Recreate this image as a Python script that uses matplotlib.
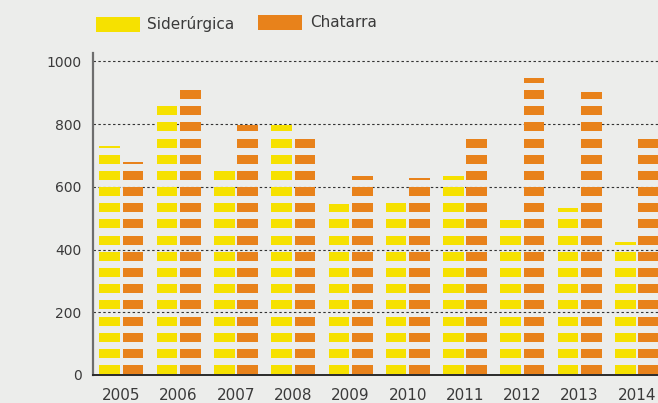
import matplotlib
matplotlib.use("Agg")
import matplotlib.pyplot as plt
from matplotlib.patches import Rectangle
import numpy as np

years = ["2005", "2006", "2007", "2008", "2009", "2010", "2011", "2012", "2013", "2014"]
siderurgica = [733, 877, 668, 809, 561, 568, 640, 511, 542, 426]
chatarra = [681, 929, 809, 774, 644, 633, 774, 959, 917, 774]
yticks = [0, 200, 400, 600, 800, 1000]
series_names = ["Siderúrgica", "Chatarra"]

BG = "#ECEDEB"
YELLOW = "#F6E100"
ORANGE = "#E8821B"
TEXT = "#3a3a3a"

STEP = 51.6     # value per block
BLOCK_H = 28.7  # drawn height of one block (axis units)
BASE = 3.0

plt.rcParams["font.family"] = ["DejaVu Sans"]

W, H = 658, 403
fig = plt.figure(figsize=(W / 100, H / 100), dpi=100)
fig.patch.set_facecolor(BG)
ax = fig.add_axes([92.7 / W, (H - 375) / H, (W - 92.7) / W, 322 / H])
ax.set_facecolor("none")
ax.set_xlim(-0.5, 9.367)
ax.set_ylim(0, 1027)


def blocks(values, offset, color):
    xs, bottoms, heights = [], [], []
    for i, v in enumerate(values):
        q = v / STEP
        n = int(np.floor(q))
        f = q - n
        for k in range(n):
            xs.append(i + offset)
            bottoms.append(BASE + k * STEP)
            heights.append(BLOCK_H)
        if f * BLOCK_H > 1.0:
            xs.append(i + offset)
            bottoms.append(BASE + n * STEP)
            heights.append(f * BLOCK_H)
    ax.bar(xs, heights, bottom=bottoms, width=0.36, color=color,
           linewidth=0, zorder=3)


x = np.arange(len(years))
blocks(siderurgica, -0.204, YELLOW)
blocks(chatarra, 0.204, ORANGE)

for t in yticks[1:]:
    ax.axhline(t, color="#333333", linewidth=0.8, linestyle=(0, (2.2, 2.2)), zorder=1)

for s in ["top", "right"]:
    ax.spines[s].set_visible(False)
ax.spines["left"].set_color("#6e6e6e")
ax.spines["left"].set_linewidth(1.6)
ax.spines["bottom"].set_color("#2a2a2a")
ax.spines["bottom"].set_linewidth(1.4)

ax.set_yticks(yticks)
ax.set_yticklabels([str(t) for t in yticks])
ax.set_xticks(x)
ax.set_xticklabels(years)
ax.tick_params(axis="y", length=0, pad=8, labelsize=10, colors=TEXT)
ax.tick_params(axis="x", length=0, pad=9, labelsize=11, colors=TEXT)

# legend
fig.add_artist(Rectangle((96 / W, (H - 31.7) / H), 44 / W, 15 / H,
                         transform=fig.transFigure, facecolor=YELLOW,
                         linewidth=0))
fig.text(147 / W, (H - 24) / H, series_names[0], fontsize=11, color=TEXT,
         va="center", ha="left")
fig.add_artist(Rectangle((258 / W, (H - 30) / H), 44 / W, 15 / H,
                         transform=fig.transFigure, facecolor=ORANGE,
                         linewidth=0))
fig.text(310 / W, (H - 22.5) / H, series_names[1], fontsize=11, color=TEXT,
         va="center", ha="left")

fig.savefig("out.png", dpi=100, facecolor=BG)
